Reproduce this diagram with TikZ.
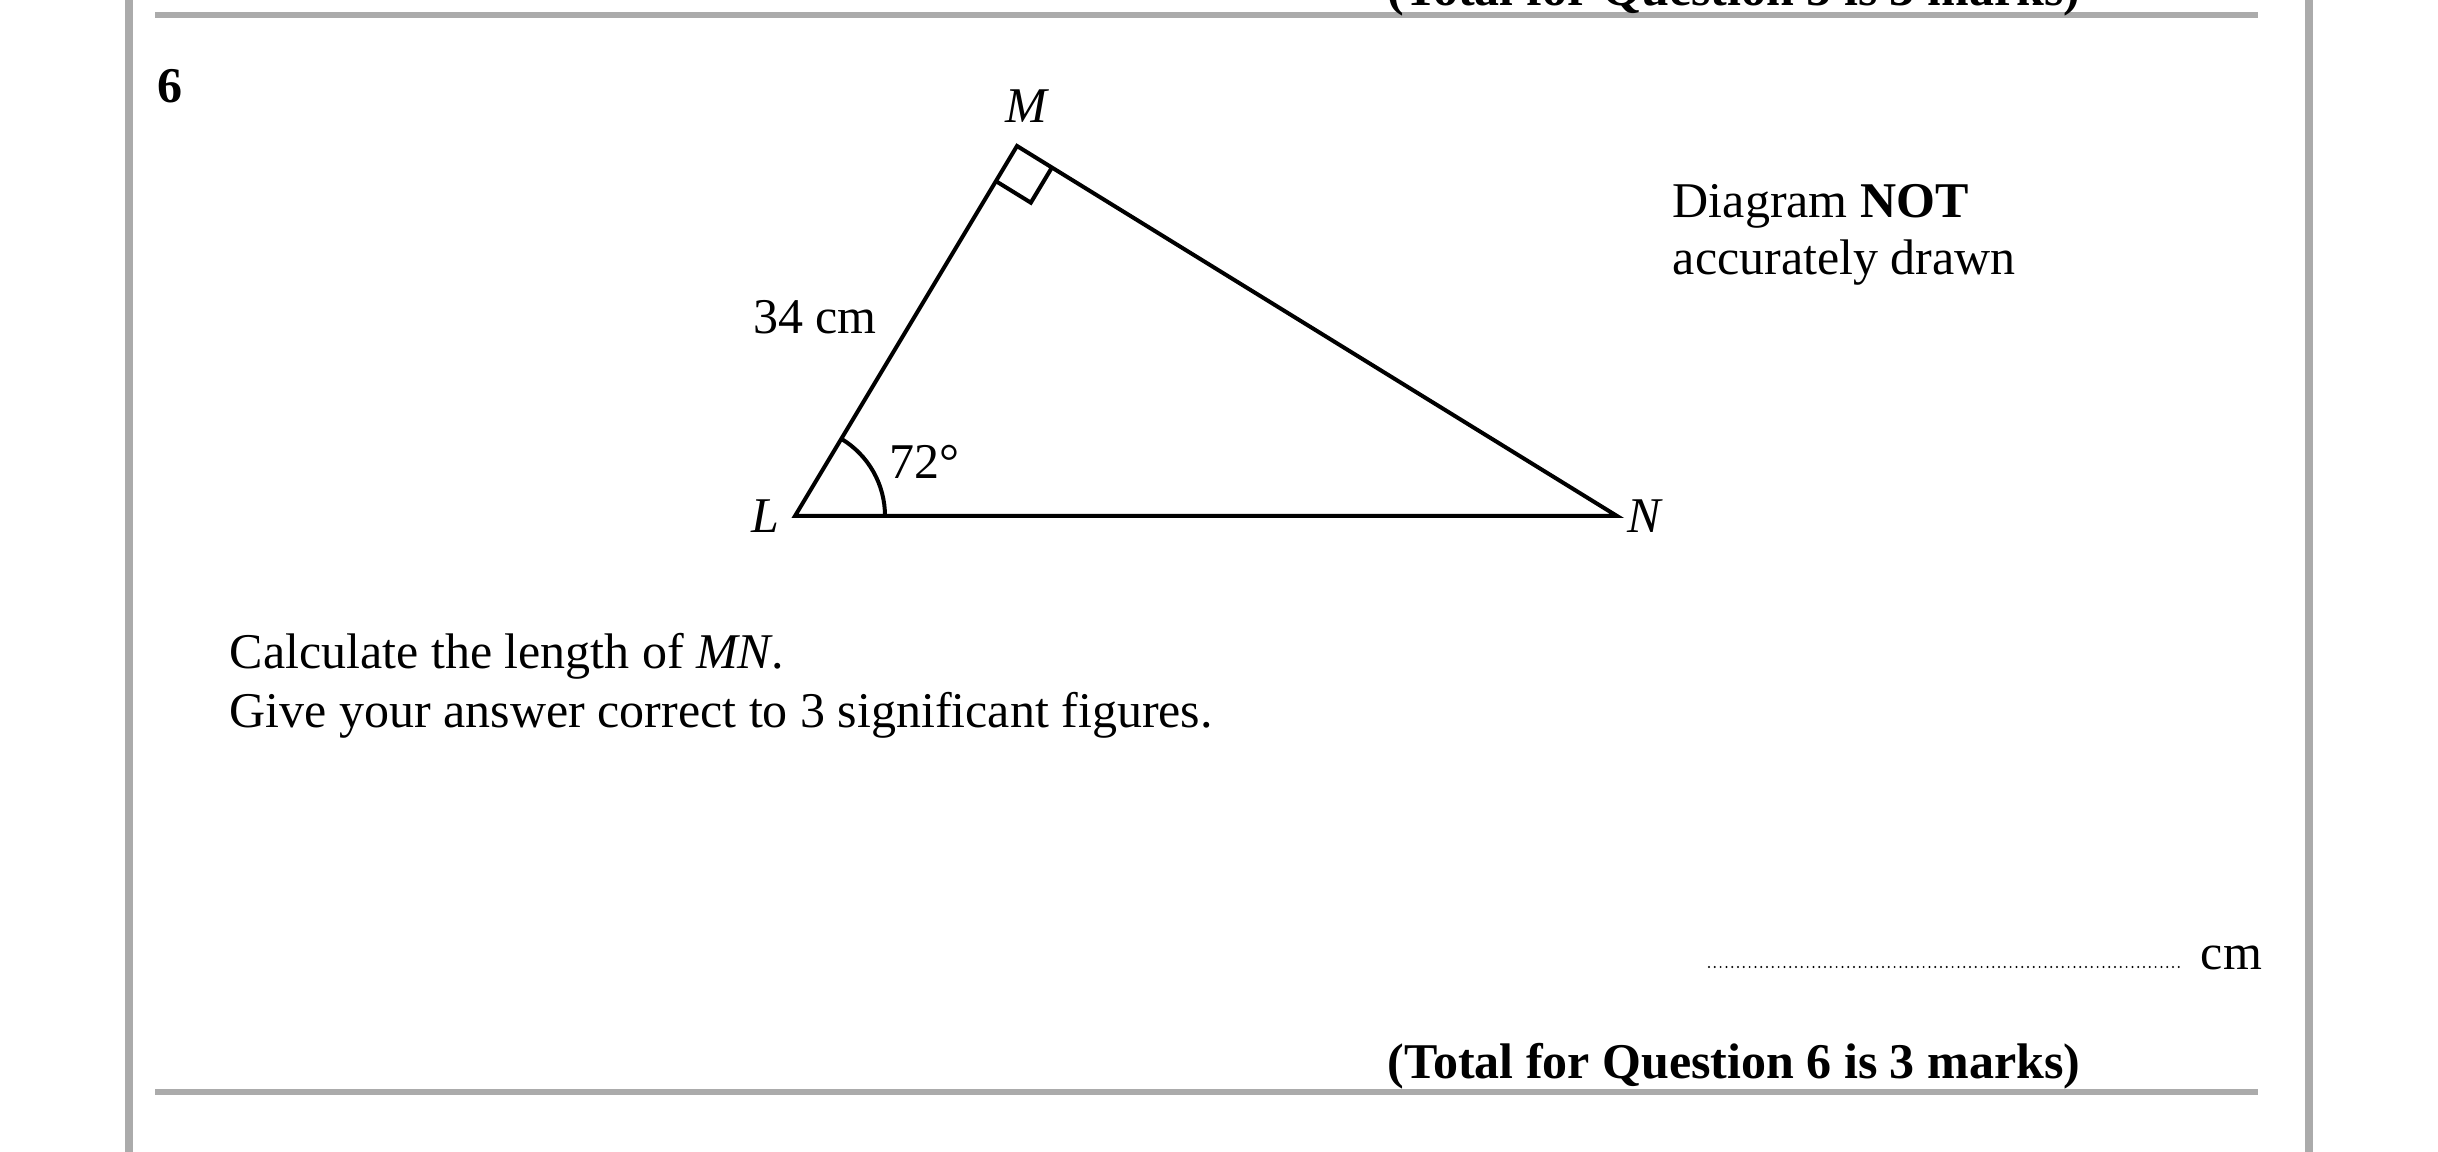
\documentclass[tikz,border=0pt]{standalone}
\usepackage{fontspec}
\setmainfont{Liberation Serif}
\usetikzlibrary{calc}
\definecolor{rulegray}{HTML}{ABABAB}
\begin{document}
\begin{tikzpicture}[x=0.25pt,y=-0.25pt,
  txt/.style={inner sep=0pt,font=\fontsize{12.5}{15}\selectfont},
  vlabel/.style={inner sep=0pt,font=\fontsize{12.5}{15}\selectfont\itshape},
  tri/.style={line width=1pt,line join=miter},
  grayrule/.style={draw=rulegray,line width=1.3pt},
  border/.style={draw=rulegray,line width=1.8pt}]
\useasboundingbox (0,0) rectangle (2438,1152);
\clip (0,0) rectangle (2438,1152);
% frame
\draw[border] (129,-10) -- (129,1162);
\draw[border] (2309,-10) -- (2309,1162);
\draw[grayrule] (155,15) -- (2258,15);
\draw[grayrule] (155,1092) -- (2258,1092);
% previous question footer (cut)
\node[txt,font=\fontsize{12.5}{15}\selectfont\bfseries,anchor=base east] (prevtotal) at (2081,6) {(Total for Question 5 is 3 marks)};
% question number
\node[txt,font=\fontsize{12.5}{15}\selectfont\bfseries,anchor=base west] (qnum) at (157,103) {6};
% triangle
\coordinate (M) at (1017,146);
\coordinate (L) at (795,516);
\coordinate (N) at (1617,516);
\draw[tri] (L) -- (M) -- (N) -- cycle;
% right angle mark
\coordinate (ra) at ($(M)!10.25pt!(L)$);
\coordinate (rb) at ($(M)!10.25pt!(N)$);
\coordinate (rc) at ($(ra)+(rb)-(M)$);
\draw[line width=1pt] (ra) -- (rc) -- (rb);
% angle arc at L
\draw[line width=1pt] ($(L)+(90,0)$) arc[start angle=0,end angle=-59.04,radius=90];
% labels
\node[vlabel] (labM) at (1026,106) {M};
\node[vlabel] (labL) at (765,516) {L};
\node[vlabel] (labN) at (1644,516) {N};
\node[txt] (side) at (815,317) {34 cm};
\node[txt] (ang) at (924,462) {72°};
% note
\node[txt,anchor=base west] (note1) at (1672,218) {Diagram \textbf{NOT}};
\node[txt,anchor=base west] (note2) at (1672,275) {accurately drawn};
% question text
\node[txt,anchor=base west] (q1) at (229,669) {Calculate the length of \textit{MN}.};
\node[txt,anchor=base west] (q2) at (229,728) {Give your answer correct to 3 significant figures.};
% answer line
\coordinate (d1) at (1709,967);
\coordinate (d2) at (2182,967);
\draw[line width=0.55pt,line cap=round,dash pattern=on 0pt off 1.45pt] (d1) -- (d2);
\node[txt,anchor=base west] (unit) at (2200,969) {cm};
% total
\node[txt,font=\fontsize{12.5}{15}\selectfont\bfseries,anchor=base east] (total) at (2081,1078) {(Total for Question 6 is 3 marks)};
\end{tikzpicture}
\end{document}
